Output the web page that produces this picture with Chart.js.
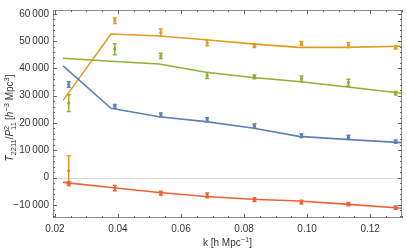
<!DOCTYPE html>
<html>
<head>
<meta charset="utf-8">
<script src="https://cdn.jsdelivr.net/npm/chart.js@4/dist/chart.umd.min.js"></script>
<style>
  html, body { margin: 0; padding: 0; background: #fff; }
  #wrap { width: 407px; height: 250px; position: relative; }
</style>
</head>
<body>
<div id="wrap"><canvas id="chartT2211"></canvas></div>
<script>
// k values of the measured bins and of the model curve
const kData = [0.0244, 0.0390, 0.0536, 0.0683, 0.0833, 0.0982, 0.1131, 0.1281];
const kModel = [0.0226, 0.0378, 0.0531, 0.0679, 0.0826, 0.0974, 0.1122, 0.1301];

// model curves
const blueModel = [40900, 25400, 22300, 20500, 18200, 15100, 14000, 12800];
const orangeModel = [28300, 52600, 51900, 50500, 49000, 47700, 47700, 48100];
const greenModel = [43700, 42600, 41600, 38600, 36700, 35200, 33300, 30900];
const redModel = [-1750, -3600, -5450, -6900, -7950, -8550, -9700, -11250];

// measurements and their error bars
const blueData = [34100, 26100, 23000, 21150, 18900, 15400, 14900, 13150];
const blueErr = [1000, 700, 700, 750, 700, 700, 600, 600];
const orangeData = [2500, 57500, 53150, 49300, 48300, 49200, 48600, 47700];
const orangeErr = [5500, 1000, 1300, 1000, 600, 700, 900, 600];
const greenData = [27300, 47050, 44600, 37400, 36900, 36200, 34800, 30900];
const greenErr = [3050, 2000, 1000, 1100, 700, 1000, 1200, 650];
const redData = [-2100, -3850, -5730, -6500, -8100, -9000, -9700, -11000];
const redErr = [600, 1000, 700, 900, 700, 700, 600, 600];

// axis ticks
const xTicks = [0.02, 0.04, 0.06, 0.08, 0.10, 0.12];
const yTicks = [-10000, 0, 10000, 20000, 30000, 40000, 50000, 60000];

const COLORS = {
    blue: "#5E81B5",
    orange: "#E19C24",
    green: "#8FB032",
    red: "#EB6235"
};
const FONT = "'Liberation Sans', Arial, sans-serif";

const pairs = (xs, ys) => xs.map((x, i) => ({ x: x, y: ys[i] }));

const lineSet = (ys, color) => ({
    type: "line",
    data: pairs(kModel, ys),
    borderColor: color,
    borderWidth: 1.6,
    pointRadius: 0,
    fill: false,
    tension: 0
});

const pointSet = (ys, errs, color) => ({
    type: "scatter",
    data: kData.map((k, i) => ({ x: k, y: ys[i], err: errs[i] })),
    borderColor: color,
    backgroundColor: color,
    pointRadius: 1.4,
    pointStyle: "rect",
    errorBars: true
});

// vertical error bars with caps, drawn through the scales
const errorBarPlugin = {
    id: "errorBars",
    afterDatasetsDraw(chart) {
        const ctx = chart.ctx;
        const xs = chart.scales.x, ys = chart.scales.y;
        ctx.save();
        ctx.beginPath();
        ctx.rect(chart.chartArea.left, chart.chartArea.top,
                 chart.chartArea.right - chart.chartArea.left,
                 chart.chartArea.bottom - chart.chartArea.top);
        ctx.clip();
        chart.data.datasets.forEach(ds => {
            if (!ds.errorBars) return;
            ctx.strokeStyle = ds.borderColor;
            ctx.lineWidth = 1.5;
            ds.data.forEach(p => {
                const px = xs.getPixelForValue(p.x);
                const top = ys.getPixelForValue(p.y + p.err);
                const bot = ys.getPixelForValue(p.y - p.err);
                ctx.beginPath();
                ctx.moveTo(px, top);
                ctx.lineTo(px, bot);
                ctx.moveTo(px - 2, top);
                ctx.lineTo(px + 2, top);
                ctx.moveTo(px - 2, bot);
                ctx.lineTo(px + 2, bot);
                ctx.stroke();
            });
        });
        ctx.restore();
    }
};

// zero line, frame with inward ticks, axis titles
const framePlugin = {
    id: "frame",
    beforeDatasetsDraw(chart) {
        const ctx = chart.ctx;
        const a = chart.chartArea;
        const y0 = chart.scales.y.getPixelForValue(0);
        ctx.save();
        ctx.strokeStyle = "#d9d9d9";
        ctx.lineWidth = 1;
        ctx.beginPath();
        ctx.moveTo(a.left, Math.round(y0) + 0.5);
        ctx.lineTo(a.right, Math.round(y0) + 0.5);
        ctx.stroke();
        ctx.restore();
    },
    afterDraw(chart) {
        const ctx = chart.ctx;
        const a = chart.chartArea;
        const xs = chart.scales.x, ys = chart.scales.y;
        ctx.save();
        ctx.strokeStyle = "#8a8a8a";
        ctx.lineWidth = 1;
        ctx.strokeRect(a.left + 0.5, a.top + 0.5, a.right - a.left - 1, a.bottom - a.top - 1);

        ctx.strokeStyle = "#666";
        const tick = (x1, y1, x2, y2) => {
            ctx.beginPath();
            ctx.moveTo(x1, y1);
            ctx.lineTo(x2, y2);
            ctx.stroke();
        };
        // x ticks: major 0.02, minor 0.005
        for (let i = 0; i <= 28; i++) {
            const v = 0.005 * i;
            if (v < xs.min || v > xs.max) continue;
            const px = Math.round(xs.getPixelForValue(v)) + 0.5;
            const len = (i % 4 === 0) ? 4 : 2;
            tick(px, a.bottom, px, a.bottom - len);
            tick(px, a.top, px, a.top + len);
        }
        // y ticks: major 10000, minor 2000
        for (let i = -8; i <= 31; i++) {
            const v = 2000 * i;
            if (v < ys.min || v > ys.max) continue;
            const py = Math.round(ys.getPixelForValue(v)) + 0.5;
            const len = (i % 5 === 0) ? 4 : 2;
            tick(a.left, py, a.left + len, py);
            tick(a.right, py, a.right - len, py);
        }

        // x axis title: k [h Mpc^-1]
        ctx.fillStyle = "#333";
        drawRuns(ctx, [
            { t: "k [h Mpc" },
            { t: "\u22121", sup: true },
            { t: "]" }
        ], (a.left + a.right) / 2, 246, 0);

        // y axis title: T_2211/P_11^2 [h^-3 Mpc^3]
        drawRuns(ctx, [
            { t: "T", it: true },
            { t: "2211", sub: true },
            { t: "/" },
            { t: "P", it: true },
            { t: "11", sub: true, keep: true },
            { t: "2", sup: true, pad: 3 },
            { t: " [" },
            { t: "h", it: true },
            { t: "\u22123", sup: true },
            { t: " Mpc" },
            { t: "3", sup: true },
            { t: "]" }
        ], 13, (a.top + a.bottom) / 2 + 4, -Math.PI / 2);
        ctx.restore();
    }
};

// rich text with sub/superscripts, centred at (cx, cy) along the baseline
function drawRuns(ctx, runs, cx, cy, angle) {
    const base = 10, small = 7.5;
    const fontOf = r => (r.it ? "italic " : "") + ((r.sub || r.sup) ? small : base) + "px " + FONT;
    // a run marked keep does not advance x, so the next run stacks on it
    let total = 0;
    const widths = runs.map(r => {
        ctx.font = fontOf(r);
        return ctx.measureText(r.t).width + (r.pad || 0);
    });
    runs.forEach((r, i) => {
        if (r.keep) return;
        total += widths[i];
    });
    ctx.save();
    ctx.translate(cx, cy);
    ctx.rotate(angle);
    ctx.textBaseline = "alphabetic";
    ctx.textAlign = "left";
    let x = -total / 2;
    runs.forEach((r, i) => {
        ctx.font = fontOf(r);
        let dy = 0;
        if (r.sub) dy = 2.5;
        if (r.sup) dy = -4;
        ctx.fillText(r.t, x, dy);
        if (!r.keep) x += widths[i];
    });
    ctx.restore();
}

function fmt(v) {
    const neg = v < 0;
    let s = Math.abs(v).toString();
    if (s.length > 3) s = s.slice(0, -3) + "\u2009" + s.slice(-3);
    return (neg ? "\u2212" : "") + s;
}

new Chart(document.getElementById("chartT2211"), {
    data: {
        datasets: [
            lineSet(blueModel, COLORS.blue),
            lineSet(orangeModel, COLORS.orange),
            lineSet(greenModel, COLORS.green),
            lineSet(redModel, COLORS.red),
            pointSet(blueData, blueErr, COLORS.blue),
            pointSet(orangeData, orangeErr, COLORS.orange),
            pointSet(greenData, greenErr, COLORS.green),
            pointSet(redData, redErr, COLORS.red)
        ]
    },
    options: {
        responsive: true,
        maintainAspectRatio: false,
        animation: false,
        layout: { padding: { top: 1, right: 2, left: 0, bottom: 0 } },
        plugins: {
            legend: { display: false },
            tooltip: { enabled: false }
        },
        scales: {
            x: {
                type: "linear",
                min: 0.0194,
                max: 0.1301,
                grid: { display: false, drawTicks: false },
                border: { display: false },
                afterBuildTicks: s => { s.ticks = xTicks.map(v => ({ value: v })); },
                afterFit: s => { s.height = 32; },
                ticks: {
                    padding: 5,
                    maxRotation: 0,
                    color: "#333",
                    font: { family: FONT, size: 10 },
                    callback: v => v.toFixed(2)
                }
            },
            y: {
                type: "linear",
                min: -14800,
                max: 61400,
                grid: { display: false, drawTicks: false },
                border: { display: false },
                afterBuildTicks: s => { s.ticks = yTicks.map(v => ({ value: v })); },
                afterFit: s => { s.width = 53; },
                ticks: {
                    padding: 4,
                    color: "#333",
                    font: { family: FONT, size: 10 },
                    callback: v => fmt(v)
                }
            }
        }
    },
    plugins: [errorBarPlugin, framePlugin]
});
</script>
</body>
</html>
